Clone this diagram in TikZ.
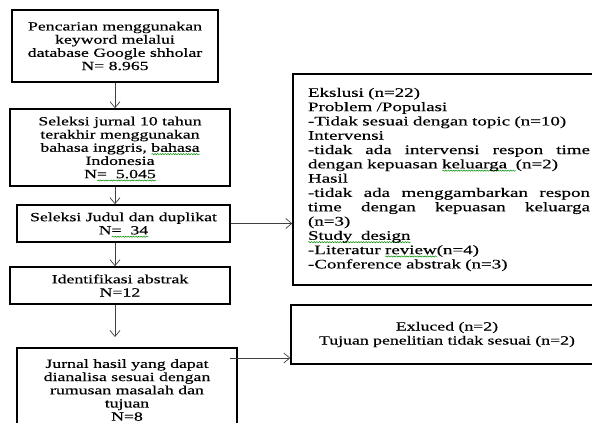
\documentclass[tikz,border=0pt]{standalone}
\usepackage{fontspec}
\setmainfont{Liberation Serif}
\newfontfamily\flowfont[FakeStretch=1.42,FakeBold=0.4]{Liberation Serif}
\newfontfamily\notefont[FakeStretch=1.46,FakeBold=0.4]{Liberation Serif}
\usetikzlibrary{arrows.meta,decorations.pathmorphing}
\newsavebox\spellbox
\newcommand\spell[1]{\leavevmode\sbox\spellbox{#1}\rlap{\smash{\raisebox{-3.2pt}{\tikz\draw[green!55!black, line width=0.5pt, decorate, decoration={snake, amplitude=0.6pt, segment length=2.6pt}] (0pt,0pt) -- (\wd\spellbox,0pt);}}}\usebox\spellbox}
\newcommand\spread[1]{\leavevmode\hbox to 282pt{#1}}
\tikzset{
	stage/.style={draw, line width=1.6pt, align=center, inner sep=0pt, font=\flowfont\fontsize{12.5}{13.2}\selectfont},
	excl/.style={draw, line width=1.4pt, inner xsep=15pt, inner ysep=0pt, font=\notefont\fontsize{13}{14.3}\selectfont},
	flow/.style={-{Straight Barb[length=6pt,width=10pt]}, line width=0.7pt, black!75},
}

\begin{document}
\begin{tikzpicture}[x=1pt,y=-1pt]
	\node[stage, minimum width=206pt, minimum height=72pt] (search) at (115,46) {Pencarian menggunakan\\keyword melalui\\database Google shholar\\N= 8.965};
	\node[stage, minimum width=220pt, minimum height=77pt] (years) at (120,147.5) {Seleksi jurnal 10 tahun\\terakhir menggunakan\\bahasa inggris, \spell{bahasa}\\Indonesia\\N\spell{=\ \ 5.045}};
	\node[stage, minimum width=213pt, minimum height=37pt] (title) at (123.5,223.5) {Seleksi Judul dan duplikat\\N\spell{=\ \ 34}};
	\node[stage, minimum width=220pt, minimum height=37pt] (abstract) at (120,285.5) {Identifikasi abstrak\\N=12};
	\node[stage, minimum width=220pt, minimum height=84pt] (final) at (127,390) {Jurnal hasil yang dapat\\dianalisa sesuai dengan\\rumusan masalah dan\\tujuan\\N=8};
	\node[excl, text width=282pt, align=left, minimum height=211pt] (excl1) at (449,179.5) {Ekslusi (n=22)\\
		Problem /Populasi\\
		-Tidak sesuai dengan topic (n=10)\\
		Intervensi\\
		\spread{-tidak\hfill ada\hfill intervensi\hfill respon\hfill time}\\
		dengan kepuasan \spell{keluarga\ \ }(n=2)\\
		Hasil\\
		\spread{-tidak\hfill ada\hfill menggambarkan\hfill respon}\\
		\spread{time\hfill dengan\hfill kepuasan\hfill keluarga}\\
		(n=3)\\
		\spell{Study\ \ design}\\
		-Literatur \spell{review}(n=4)\\
		-Conference abstrak (n=3)};
	\node[excl, align=center, font=\flowfont\fontsize{12.5}{14}\selectfont, minimum width=312pt, minimum height=59pt] (excl2) at (447,334.5) {Exluced (n=2)\\Tujuan penelitian tidak sesuai (n=2)};
	\coordinate (stop) at (115,337);
	\coordinate (finalout) at (230,358);
	\draw[flow] (search.south) -- (search.south |- years.north);
	\draw[flow] (years.south -| search.south) -- (title.north -| search.south);
	\draw[flow] (title.south -| search.south) -- (abstract.north -| search.south);
	\draw[flow] (abstract.south -| search.south) -- (stop);
	\draw[flow] (title.east) -- (title.east -| excl1.west);
	\draw[flow] (finalout) -- (finalout -| excl2.west);
	\pgfresetboundingbox
	\useasboundingbox (0,0) rectangle (592,423);
\end{tikzpicture}
\end{document}
